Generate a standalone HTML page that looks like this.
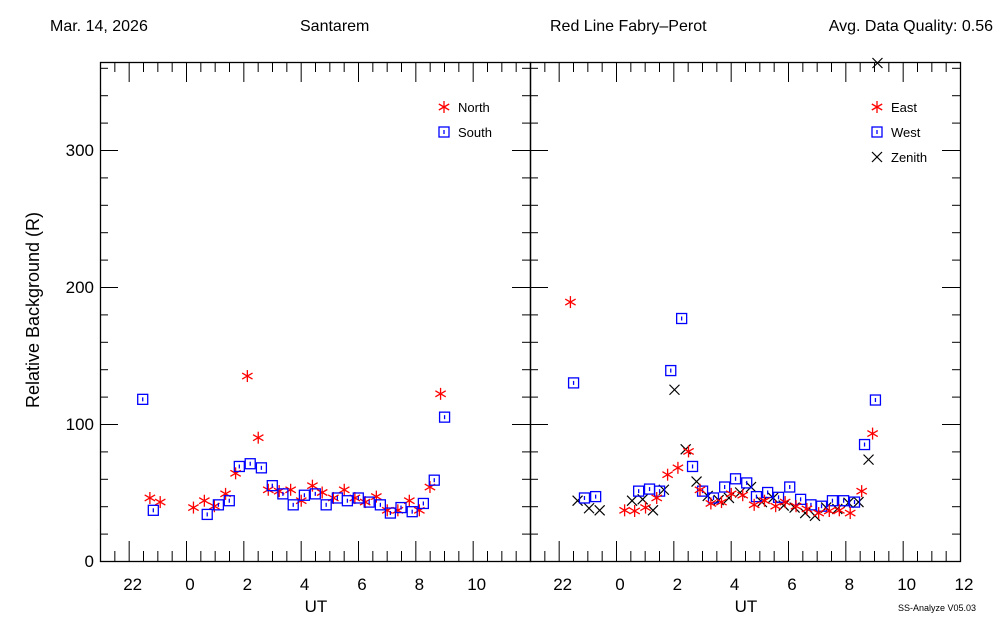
<!DOCTYPE html>
<html><head><meta charset="utf-8"><style>
body{margin:0;background:#fff;}
svg text{font-family:"Liberation Sans",sans-serif;}
</style></head><body>
<svg id="chart" width="1000" height="625" viewBox="0 0 1000 625" xmlns="http://www.w3.org/2000/svg">
<rect width="1000" height="625" fill="#fff"/>
<text x="50" y="31" font-size="16">Mar. 14, 2026</text>
<text x="300" y="31" font-size="16">Santarem</text>
<text x="550" y="31" font-size="16">Red Line Fabry–Perot</text>
<text x="993" y="31" font-size="16" text-anchor="end">Avg. Data Quality: 0.56</text>
<text x="0" y="0" font-size="18" text-anchor="middle" transform="translate(39,310) rotate(-90)">Relative Background (R)</text>
<text x="316" y="612" font-size="17" text-anchor="middle">UT</text>
<text x="746" y="612" font-size="17" text-anchor="middle">UT</text>
<text x="976" y="611" font-size="9" text-anchor="end">SS-Analyze V05.03</text>
<g id="g"></g>
</svg>
<script>
const xTickHours=[-2,0,2,4,6,8,10,12];
const xTickLabels=["22","0","2","4","6","8","10","12"];
const yTickValues=[0,100,200,300];
const yTickLabels=["0","100","200","300"];
const northH=[-1.26,-0.90,0.26,0.64,0.99,1.38,1.73,2.14,2.52,2.87,3.25,3.65,4.02,4.41,4.75,5.14,5.52,5.89,6.25,6.64,7.02,7.39,7.79,8.14,8.51,8.88];
const northV=[46,43,39,44,40,49,64,135,90,52,51,52,44,55,50,46,52,46,43,47,37,37,44,37,54,122];
const southH=[-1.51,-1.14,0.74,1.13,1.51,1.86,2.24,2.63,3.01,3.38,3.74,4.13,4.51,4.89,5.28,5.63,6.01,6.39,6.78,7.13,7.50,7.89,8.28,8.66,9.02];
const southV=[118,37,34,41,44,69,71,68,55,49,41,48,49,41,46,44,46,43,41,35,39,36,42,59,105];
const eastH=[-1.59,0.30,0.65,1.03,1.42,1.80,2.16,2.53,2.93,3.31,3.68,4.02,4.42,4.82,5.18,5.57,5.90,6.28,6.66,7.07,7.44,7.79,8.17,8.57,8.95];
const eastV=[189,37,36.5,39,46,63,68,80,52,42,43,49,48,41,44,40,43,40,38,35,36.5,37,35,51,93];
const westH=[-1.48,-1.10,-0.71,0.79,1.17,1.52,1.91,2.29,2.67,3.02,3.40,3.79,4.17,4.56,4.90,5.29,5.67,6.06,6.44,6.80,7.17,7.55,7.94,8.32,8.67,9.05];
const westV=[130,46,47,51,52.5,51,139,177,69,51,46,54,60,57,47,50,46.5,54,45,41,40,44,44,43,85,117.5];
const zenithH=[-1.34,-0.94,-0.57,0.56,0.93,1.29,1.67,2.04,2.43,2.81,3.20,3.58,3.94,4.33,4.71,5.09,5.48,5.85,6.23,6.60,6.94,7.33,7.72,8.11,8.46,8.81,9.12];
const zenithV=[44,38.5,37,44,45,37,52,125,81.5,58,47.5,44.5,46,50,54,43,46,40.5,39,35,33,39,38,42.5,43,74,364];

const NS="http://www.w3.org/2000/svg";
const g=document.getElementById('g');
const TOP=62,BOT=561,PPH=28.667,H0=-3,VPX=1.37;
function yS(v){return BOT-v*VPX;}
function mk(t,a,p){const e=document.createElementNS(NS,t);for(const k in a)e.setAttribute(k,a[k]);(p||g).appendChild(e);return e;}
function line(x1,y1,x2,y2,c,w){return mk('line',{x1,y1,x2,y2,stroke:c||'#000','stroke-width':w||1});}
const panels=[{x0:100,name:'left'},{x0:530,name:'right'}];
panels.forEach(p=>{
  const xS=h=>p.x0+(h-H0)*PPH;
  p.xS=xS;
  const fr=mk('rect',{x:p.x0+0.5,y:TOP+0.5,width:430,height:BOT-TOP,fill:'none',stroke:'#000','stroke-width':1.3});
  
  
  for(let h=-3;h<=12.001;h+=0.5){
    const x=xS(h)+0.5; const major=Math.abs(h%2)<0.01;
    const L=major?20:10;
    line(x,BOT,x,BOT-L); line(x,TOP,x,TOP+L);
  }
  for(let v=0;v<=360;v+=20){
    const y=yS(v)+0.5; const major=v%100===0; const L=major?18:8;
    line(p.x0,y,p.x0+L,y); line(p.x0+430,y,p.x0+430-L,y);
  }
  xTickHours.forEach((h,i)=>{
    if(p.name==='left'&&h===12)return;
    const t=mk('text',{x:xS(h)+4,y:590,'font-size':17,'text-anchor':'middle'});
    t.textContent=xTickLabels[i];
    
    
  });
});
yTickValues.forEach((v,i)=>{
  const t=mk('text',{x:94,y:yS(v)+6,'font-size':17,'text-anchor':'end'});
  t.textContent=yTickLabels[i];
  
  
});
function star(x,y,c){const gg=mk('g',{stroke:c,'stroke-width':1.3});const r=6;
  for(let k=0;k<3;k++){const a=Math.PI/2+k*Math.PI/3;
    mk('line',{x1:x+r*Math.cos(a),y1:y+r*Math.sin(a),x2:x-r*Math.cos(a),y2:y-r*Math.sin(a)},gg);}
  return gg;}
function sq(x,y,c){const gg=mk('g',{stroke:c,'stroke-width':1.3,fill:'none'});
  mk('rect',{x:x-5,y:y-5,width:10,height:10},gg);mk('line',{x1:x,y1:y-2,x2:x,y2:y+2},gg);return gg;}
function cross(x,y,c){const gg=mk('g',{stroke:c,'stroke-width':1.2});
  mk('line',{x1:x-5,y1:y-5,x2:x+5,y2:y+5},gg);mk('line',{x1:x-5,y1:y+5,x2:x+5,y2:y-5},gg);return gg;}
function series(p,H,V,fn,c,nm){H.forEach((h,i)=>{const y=Math.max(TOP+1,yS(V[i]));const e=fn(p.xS(h),y,c);
  
  });}
series(panels[0],northH,northV,star,'#f00','north');
series(panels[0],southH,southV,sq,'#00f','south');
series(panels[1],zenithH,zenithV,cross,'#000','zenith');
series(panels[1],westH,westV,sq,'#00f','west');
series(panels[1],eastH,eastV,star,'#f00','east');
function legend(x,y,fn,c,label){const e=fn(x,y,c);
  
  
  const t=mk('text',{x:x+14,y:y+5,'font-size':13});t.textContent=label;
  
  }
legend(444,107,star,'#f00','North');
legend(444,132,sq,'#00f','South');
legend(877,107,star,'#f00','East');
legend(877,132,sq,'#00f','West');
legend(877,157,cross,'#000','Zenith');
</script>
</body></html>
